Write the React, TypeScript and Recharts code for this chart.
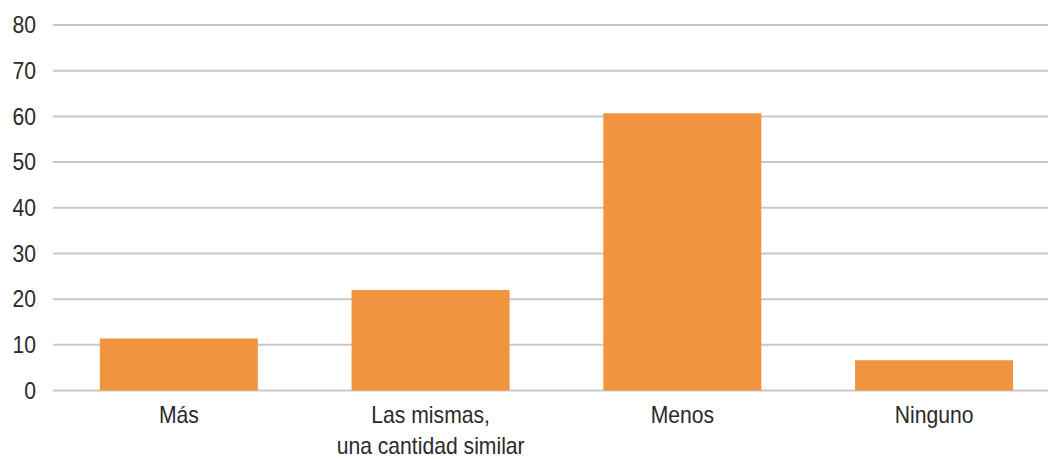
import React from 'react'
import { BarChart, Bar, XAxis, YAxis, CartesianGrid } from 'recharts'

const categories = ['Más', 'Las mismas,\nuna cantidad similar', 'Menos', 'Ninguno']
const values = [11.4, 22, 60.7, 6.6]
const yTicks = [0, 10, 20, 30, 40, 50, 60, 70, 80]

const data = categories.map((name, i) => ({ name, value: values[i] }))

// narrow look of the original: Liberation Sans squeezed a little
const FONT = '"Liberation Sans", Arial, sans-serif'
const TEXT = '#2a2a2a'
const SQUEEZE = 0.92

const CategoryTick = ({ x, y, payload }: any) => {
  const lines = String(payload.value).split('\n')
  return (
    <g transform={`translate(${x} ${y}) scale(${SQUEEZE} 1)`}>
      <text x={0} y={0} textAnchor="middle" fill={TEXT} fontFamily={FONT} fontSize={23}>
        {lines.map((line, i) => (
          <tspan key={i} x={0} dy={i === 0 ? '0.71em' : 31}>
            {line}
          </tspan>
        ))}
      </text>
    </g>
  )
}

const ValueTick = ({ x, y, payload }: any) => (
  <g transform={`translate(${x} ${y}) scale(${SQUEEZE} 1)`}>
    <text x={0} y={0} dy="0.355em" textAnchor="end" fill={TEXT} fontFamily={FONT} fontSize={23}>
      {payload.value}
    </text>
  </g>
)

export default function App() {
  return (
    <div style={{ position: 'absolute', left: 0, top: 0, width: 1048, height: 459, overflow: 'hidden', background: '#fff' }}>
      <BarChart
        width={1060}
        height={459}
        data={data}
        margin={{ top: 25, right: 0, left: 0, bottom: 8.5 }}
        barCategoryGap="18.6%"
      >
        <CartesianGrid vertical={false} stroke="#c8c8c8" strokeWidth={2} />
        <XAxis
          dataKey="name"
          height={60}
          axisLine={false}
          tickLine={false}
          tickSize={0}
          tickMargin={16.5}
          interval={0}
          tick={<CategoryTick />}
        />
        <YAxis
          width={53}
          domain={[0, 80]}
          ticks={yTicks}
          axisLine={false}
          tickLine={false}
          tickSize={0}
          tickMargin={17}
          tick={<ValueTick />}
        />
        <Bar dataKey="value" fill="#f19440" isAnimationActive={false} />
      </BarChart>
    </div>
  )
}
